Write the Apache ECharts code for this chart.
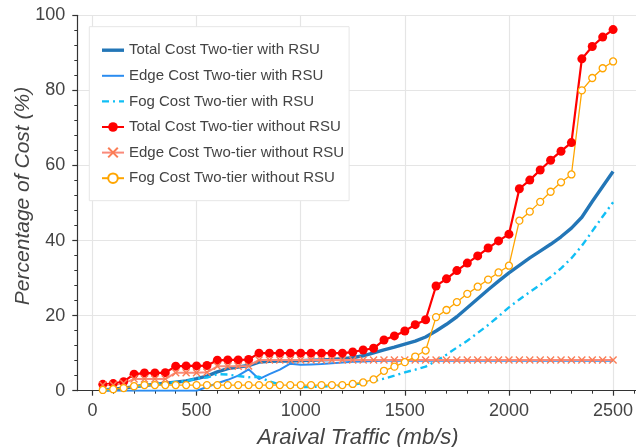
<!DOCTYPE html>
<html>
<head>
<meta charset="utf-8">
<script src="https://cdn.jsdelivr.net/npm/echarts@6/dist/echarts.min.js"></script>
<style>
html,body{margin:0;padding:0;background:#fff;}
#chart{width:636px;height:447px;}
</style>
</head>
<body>
<div id="chart"></div>
<script>
var traffic = [50,100,150,200,250,300,350,400,450,500,
  550,600,650,700,750,800,850,900,950,1000,
  1050,1100,1150,1200,1250,1300,1350,1400,1450,1500,
  1550,1600,1650,1700,1750,1800,1850,1900,1950,2000,
  2050,2100,2150,2200,2250,2300,2350,2400,2450,2500];

var totalWithRSU = [0.2,0.4,0.7,1.1,1.4,1.7,2.0,2.3,2.6,3.2,
  3.9,5.0,5.9,6.3,6.7,7.6,7.8,7.9,7.9,8.0,
  8.1,8.2,8.3,8.5,8.8,9.3,10.1,10.9,11.6,12.4,
  13.2,14.3,15.9,17.7,19.7,22.1,24.5,26.9,29.2,31.4,
  33.4,35.4,37.2,39.0,41.0,43.3,46.2,50.4,54.4,58.4];

var edgeWithRSU = [0,0,0,0,0,0,0,0,0,0,
  1.0,2.0,2.9,4.0,5.7,3.1,4.4,5.6,7.2,6.9,
  7.0,7.1,7.3,7.5,7.7,7.8,7.9,8.0,8.0,8.0,
  8.0,8.0,8.0,8.0,8.0,8.0,8.0,8.0,8.0,8.0,
  8.0,8.0,8.0,8.0,8.0,8.0,8.0,8.0,8.0,8.0];

var fogWithRSU = [0.2,0.4,0.7,1.1,1.4,1.7,2.0,2.3,2.6,3.2,
  3.5,4.4,4.3,3.9,3.6,3.7,2.5,1.6,1.1,1.0,
  1.0,1.1,1.2,1.3,1.6,2.0,2.6,3.2,4.0,4.9,
  5.6,6.4,7.9,9.6,11.5,13.3,15.4,17.5,19.8,22.2,
  24.3,26.3,28.2,30.3,32.6,35.3,38.6,42.5,46.4,50.2];

var totalWithoutRSU = [1.7,1.9,2.4,4.4,4.7,4.7,4.8,6.5,6.6,6.6,
  6.7,8.1,8.2,8.2,8.3,10.0,10.0,10.0,10.0,10.0,
  10.0,10.0,10.0,10.0,10.3,10.85,11.3,13.5,14.6,15.9,
  17.6,18.9,27.9,29.8,32.0,34.0,35.9,38.0,39.9,41.7,
  53.8,56.1,58.8,61.4,63.8,66.1,88.4,91.7,94.2,96.2];

var edgeWithoutRSU = [1.5,1.5,2.0,3.1,3.1,3.1,3.1,4.8,4.8,4.8,
  4.9,6.5,6.5,6.5,6.6,8.2,8.2,8.2,8.2,8.2,
  8.2,8.2,8.2,8.2,8.2,8.2,8.2,8.2,8.2,8.2,
  8.2,8.2,8.2,8.2,8.2,8.2,8.2,8.2,8.2,8.2,
  8.2,8.2,8.2,8.2,8.2,8.2,8.2,8.2,8.2,8.2];

var fogWithoutRSU = [0.2,0.4,0.7,1.2,1.5,1.5,1.5,1.5,1.5,1.5,
  1.5,1.5,1.5,1.5,1.5,1.5,1.5,1.5,1.5,1.5,
  1.5,1.5,1.5,1.5,1.8,2.2,3.0,5.3,6.4,7.6,
  9.1,10.7,19.6,21.5,23.6,25.8,27.7,29.6,31.5,33.3,
  45.3,47.7,50.3,53.0,55.5,57.6,80.0,83.3,85.9,87.7];

var xMajorTicks = [0,500,1000,1500,2000,2500];
var xMinorTicks = [0,100,200,300,400,500,600,700,800,900,1000,1100,1200,1300,1400,1500,1600,1700,1800,1900,2000,2100,2200,2300,2400,2500,2600];

var seriesNames = ['Total Cost Two-tier with RSU','Edge Cost Two-tier with RSU','Fog Cost Two-tier with RSU',
  'Total Cost Two-tier without RSU','Edge Cost Two-tier without RSU','Fog Cost Two-tier without RSU'];

function pairs(ys){ return traffic.map(function(x,i){ return [x, ys[i]]; }); }

var FONT = '"Liberation Sans", Arial, Helvetica, sans-serif';
var TXT = '#444';

var chart = echarts.init(document.getElementById('chart'), null, {renderer:'canvas'});
var xCommon = {
  type:'value', min:-72.5, max:2622.5, gridIndex:0, position:'bottom'
};
var legendData = [
  {name:seriesNames[0], itemStyle:{opacity:0}, lineStyle:{width:3.4}},
  {name:seriesNames[1], itemStyle:{opacity:0}, lineStyle:{width:2}},
  {name:seriesNames[2], itemStyle:{opacity:0}, lineStyle:{width:2.4}},
  {name:seriesNames[3]},
  {name:seriesNames[4]},
  {name:seriesNames[5]}
];
chart.setOption({
  animation:false,
  backgroundColor:'#fff',
  grid:{left:77.3, top:15.3, width:561.3, height:375.4, containLabel:false, outerBoundsMode:'none'},
  legend:{
    orient:'vertical', left:89.3, top:26.7,
    padding:[16,5,15,11],
    backgroundColor:'#fff', borderColor:'#e6e6e6', borderWidth:1,
    itemWidth:22, itemHeight:12, itemGap:10.6,
    textStyle:{fontFamily:FONT, fontSize:15, color:TXT, lineHeight:15},
    data:legendData
  },
  xAxis:[
    Object.assign({}, xCommon, {
      name:'Araival Traffic (mb/s)', nameLocation:'middle', nameGap:36, nameMoveOverlap:false,
      nameTextStyle:{fontFamily:FONT, fontSize:22, fontStyle:'italic', color:TXT},
      axisLine:{show:true, onZero:false, lineStyle:{color:'#333', width:1.2}},
      axisTick:{show:true, inside:false, length:5, customValues:xMajorTicks, lineStyle:{color:'#333', width:1.2}},
      axisLabel:{customValues:xMajorTicks, margin:11, fontFamily:FONT, fontSize:18, color:TXT,
        formatter:function(v){ return String(v); }},
      splitLine:{show:true, lineStyle:{color:'#e5e5e5', width:1.2}}
    }),
    Object.assign({}, xCommon, {
      axisLine:{show:false},
      axisTick:{show:true, inside:false, length:3, customValues:xMinorTicks, lineStyle:{color:'#333', width:1}},
      axisLabel:{show:false},
      splitLine:{show:false}
    })
  ],
  yAxis:{
    type:'value', min:0, max:100, interval:20,
    name:'Percentage of Cost (%)', nameLocation:'middle', nameGap:44, nameMoveOverlap:false,
    nameTextStyle:{fontFamily:FONT, fontSize:21, fontStyle:'italic', color:TXT, padding:[0,0,0,14]},
    axisLine:{show:true, onZero:false, lineStyle:{color:'#333', width:1.2}},
    axisTick:{show:true, inside:false, length:5, lineStyle:{color:'#333', width:1.2}},
    minorTick:{show:true, splitNumber:5, length:3, lineStyle:{color:'#333', width:1}},
    axisLabel:{margin:12, fontFamily:FONT, fontSize:18, color:TXT},
    splitLine:{show:true, lineStyle:{color:'#e5e5e5', width:1.2}}
  },
  series:[
    {name:seriesNames[0], type:'line', data:pairs(totalWithRSU), symbol:'none',
      lineStyle:{color:'#2376b7', width:3.4}, itemStyle:{color:'#2376b7'}},
    {name:seriesNames[1], type:'line', data:pairs(edgeWithRSU), symbol:'none',
      lineStyle:{color:'#2b8cf0', width:2}, itemStyle:{color:'#2b8cf0'}},
    {name:seriesNames[2], type:'line', data:pairs(fogWithRSU), symbol:'none',
      lineStyle:{color:'#11bff5', width:2.4, type:[7,4,2,4]}, itemStyle:{color:'#11bff5'}},
    {name:seriesNames[3], type:'line', data:pairs(totalWithoutRSU), symbol:'circle', symbolSize:9,
      lineStyle:{color:'#ff0000', width:2.2}, itemStyle:{color:'#ff0000'}},
    {name:seriesNames[4], type:'line', data:pairs(edgeWithoutRSU), symbol:'path://M0,0L10,10M10,0L0,10', symbolSize:7,
      lineStyle:{color:'#fa8a7a', width:2}, itemStyle:{color:'rgba(0,0,0,0)', borderColor:'#fb7d55', borderWidth:1.4}},
    {name:seriesNames[5], type:'line', data:pairs(fogWithoutRSU), symbol:'circle', symbolSize:7,
      lineStyle:{color:'#ffa500', width:1.3}, itemStyle:{color:'#ffffff', borderColor:'#ffa500', borderWidth:1.3}}
  ]
});
</script>
</body>
</html>
